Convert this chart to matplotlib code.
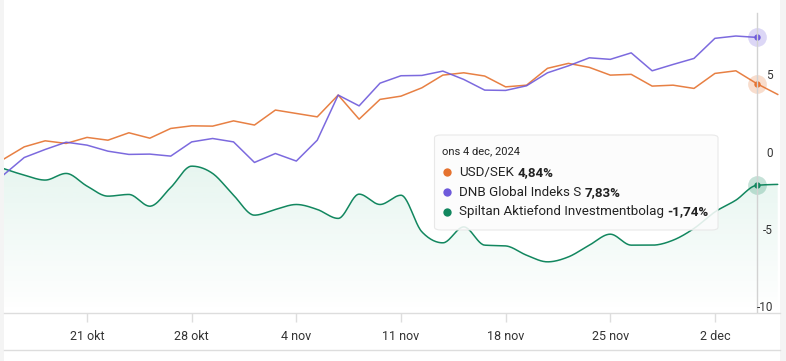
import numpy as np
import pandas as pd
import matplotlib
matplotlib.use("Agg")
import matplotlib.pyplot as plt
from matplotlib.patches import FancyBboxPatch, Rectangle, PathPatch
from matplotlib.path import Path
from matplotlib.lines import Line2D

plt.rcParams['font.family'] = ['Roboto', 'DejaVu Sans']

# ---------------- data ----------------
dates = pd.bdate_range('2024-10-15', '2024-12-05')
tick_dates = ['2024-10-21', '2024-10-28', '2024-11-04', '2024-11-11',
              '2024-11-18', '2024-11-25', '2024-12-02']
tick_labels = ['21 okt', '28 okt', '4 nov', '11 nov', '18 nov', '25 nov', '2 dec']

usd_sek = [-0.06, 0.75, 1.14, 0.97, 1.36, 1.18, 1.66, 1.31, 1.94, 2.11, 2.09, 2.43,
           2.16, 3.13, 2.91, 2.69, 4.10, 2.54, 3.82, 4.03, 4.57, 5.39, 5.54, 5.33,
           4.63, 4.74, 5.83, 6.15, 5.89, 5.39, 5.44, 4.68, 4.74, 4.53, 5.50, 5.67,
           4.84, 4.14]
dnb_global = [-1.08, 0.06, 0.58, 1.05, 0.86, 0.47, 0.26, 0.28, 0.15, 1.07, 1.29, 1.07,
              -0.26, 0.32, -0.17, 1.18, 4.10, 3.40, 4.87, 5.35, 5.37, 5.65, 5.11, 4.42,
              4.40, 4.70, 5.54, 5.99, 6.51, 6.41, 6.83, 5.67, 6.08, 6.47, 7.77, 7.92,
              7.83]
spiltan = [-0.65, -1.08, -1.40, -0.97, -1.79, -2.44, -2.33, -3.09, -1.88, -0.50, -0.97,
           -2.38, -3.67, -3.30, -2.98, -3.30, -3.88, -2.31, -2.98, -2.38, -4.75, -5.46,
           -4.43, -5.61, -5.66, -6.26, -6.69, -6.37, -5.61, -4.90, -5.61, -5.61, -5.29,
           -4.53, -3.46, -2.70, -1.74, -1.68]

series_names = ['USD/SEK', 'DNB Global Indeks S', 'Spiltan Aktiefond Investmentbolag']
tooltip_title = 'ons 4 dec, 2024'
hover_date = '2024-12-04'
y_ticks = [5, 0, -5, -10]

C_ORANGE = '#E5722F'
C_PURPLE = '#6E5ADB'
C_GREEN = '#12875F'

W, H = 786, 361


def fx(px):
    return px / W


def fy(py):
    return 1 - py / H


def monotone(x, y, n=24):
    x = np.asarray(x, float)
    y = np.asarray(y, float)
    h = np.diff(x)
    s = np.diff(y) / h
    m = np.zeros_like(y)
    for i in range(1, len(y) - 1):
        s0, s1 = s[i - 1], s[i]
        p = (s0 * h[i] + s1 * h[i - 1]) / (h[i - 1] + h[i])
        m[i] = (np.sign(s0) + np.sign(s1)) * min(abs(s0), abs(s1), 0.5 * abs(p))
    m[0] = (3 * s[0] - m[1]) / 2 if len(y) > 2 else s[0]
    m[-1] = (3 * s[-1] - m[-2]) / 2 if len(y) > 2 else s[-1]
    xs, ys = [], []
    for i in range(len(y) - 1):
        t = np.linspace(0, 1, n, endpoint=(i == len(y) - 2))
        h00 = 2 * t**3 - 3 * t**2 + 1
        h10 = t**3 - 2 * t**2 + t
        h01 = -2 * t**3 + 3 * t**2
        h11 = t**3 - t**2
        xs.append(x[i] + t * h[i])
        ys.append(h00 * y[i] + h10 * h[i] * m[i] + h01 * y[i + 1] + h11 * h[i] * m[i + 1])
    return np.concatenate(xs), np.concatenate(ys)


fig = plt.figure(figsize=(W / 100, H / 100), dpi=100)
fig.patch.set_facecolor('white')

# side strips / bottom border
fig.add_artist(Rectangle((0, 0), fx(3.5), 1, transform=fig.transFigure,
                         facecolor='#f4f4f4', edgecolor='none', zorder=0))
fig.add_artist(Rectangle((fx(780), 0), 1 - fx(780), 1, transform=fig.transFigure,
                         facecolor='#f4f4f4', edgecolor='none', zorder=0))
fig.add_artist(Line2D([fx(3.5), fx(780)], [fy(350), fy(350)], transform=fig.transFigure,
                      color='#dddddd', lw=1))

ax = fig.add_axes([fx(4), fy(313), fx(776), 313 / H])
ax.set_facecolor('none')

idx = np.arange(len(dates))
ax.set_xlim((4 - 3.3) / 20.93, (780 - 3.3) / 20.93)
ax.set_ylim(-10, 10.25)

# green gradient fill
gx, gy = monotone(idx[:len(spiltan)], spiltan)
verts = np.column_stack([np.r_[gx, gx[-1], gx[0]], np.r_[gy, -10, -10]])
clip = PathPatch(Path(verts), facecolor='none', edgecolor='none')
ax.add_patch(clip)
grad = np.zeros((256, 1, 4))
rgb = matplotlib.colors.to_rgb('#22A874')
grad[..., 0], grad[..., 1], grad[..., 2] = rgb
grad[:, 0, 3] = np.linspace(0.0, 0.11, 256)
im = ax.imshow(grad, extent=[gx[0], gx[-1], -10, max(spiltan)], origin='lower',
               aspect='auto', zorder=1, interpolation='bilinear')
im.set_clip_path(clip)

ax.plot(gx, gy, color=C_GREEN, lw=1.1, zorder=3, solid_capstyle='round')
ax.plot(idx[:len(usd_sek)], usd_sek, color=C_ORANGE, lw=1.1, zorder=3, alpha=0.9)
ax.plot(idx[:len(dnb_global)], dnb_global, color=C_PURPLE, lw=1.1, zorder=3, alpha=0.9)

# hover markers
hi = list(dates).index(pd.Timestamp(hover_date))
for vals, c in [(usd_sek, C_ORANGE), (dnb_global, C_PURPLE), (spiltan, C_GREEN)]:
    ax.plot(hi, vals[hi], 'o', ms=13.5, color=c, alpha=0.24, mec='none', zorder=4)
    ax.plot(hi, vals[hi], 'o', ms=4.6, color=c, mec='none', zorder=5)

# crosshair
ax.plot([hi, hi], [-10, (158.3 - 13) / 15.45], color='#d2d2d2', lw=1, zorder=6)

# y tick labels inside
for v in y_ticks:
    ax.text((773 - 4) / 776, v + 0.12, str(v), transform=ax.get_yaxis_transform(),
            ha='right', va='baseline', fontsize=8.5, color='#333333', zorder=7)

for sp in ['left', 'right', 'top']:
    ax.spines[sp].set_visible(False)
ax.spines['bottom'].set_color('#dddddd')
ax.spines['bottom'].set_linewidth(1)
ax.set_yticks([])
tpos = [list(dates).index(pd.Timestamp(d)) for d in tick_dates]
ax.set_xticks(tpos)
ax.set_xticklabels(tick_labels)
ax.tick_params(axis='x', length=6.5, width=1, color='#dddddd', labelcolor='#333333',
               labelsize=9, pad=6)

# tooltip
box = FancyBboxPatch((fx(434.5), fy(230)), fx(718 - 434.5), (230 - 135) / H,
                     boxstyle='round,pad=0,rounding_size=0.008',
                     transform=fig.transFigure, facecolor='#fcfcfc', alpha=0.88,
                     edgecolor='#e6e6e6', lw=0.8, zorder=10)
fig.add_artist(box)
fig.text(fx(442.5), fy(151.7), tooltip_title, fontsize=8, color='#222222',
         va='center', ha='left', zorder=11)

fig.canvas.draw()
renderer = fig.canvas.get_renderer()
vals_hover = [usd_sek[hi], dnb_global[hi], spiltan[hi]]
for k, (name, c, v) in enumerate(zip(series_names, [C_ORANGE, C_PURPLE, C_GREEN], vals_hover)):
    yy = [172.3, 192.3, 211.7][k]
    fig.add_artist(Line2D([fx(446.7)], [fy(yy)], marker='o', ms=6, color=c, mec='none',
                          transform=fig.transFigure, zorder=11))
    t = fig.text(fx(459.3), fy(yy), name, fontsize=9.6, color='#222222', va='center',
                 ha='left', zorder=11)
    ext = t.get_window_extent(renderer)
    txt = f"{v:.2f}%".replace('.', ',')
    fig.text((ext.x1 + 3) / W, fy(yy), txt, fontsize=9.6, color='#222222', va='center',
             ha='left', fontweight='bold', zorder=11)

fig.savefig('out.png', dpi=100)
